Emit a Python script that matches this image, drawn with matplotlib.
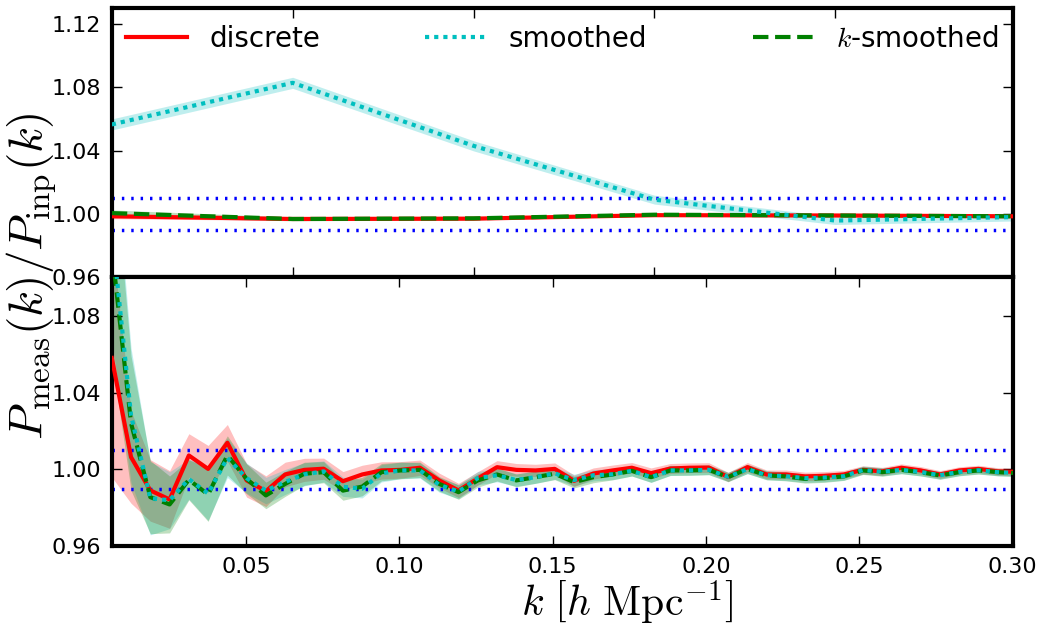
# Ratio of measured to input power spectrum, two panels
import numpy as np
import matplotlib.pyplot as plt

plt.rcParams['mathtext.fontset'] = 'cm'
plt.rcParams['font.family'] = 'DejaVu Sans'

# ---- top panel data (coarse bins) ----
k_top = [0.0, 0.02, 0.04, 0.06, 0.08, 0.0996]
disc_top = [0.9985, 0.9968, 0.9970, 0.9992, 0.9990, 0.9985]
disc_top_err = [0.0015, 0.0010, 0.0008, 0.0006, 0.0005, 0.0005]
smooth_top = [1.0565, 1.0828, 1.0430, 1.0090, 0.9958, 0.9980]
smooth_top_err = [0.0035, 0.0035, 0.0032, 0.0028, 0.0025, 0.0025]
ksmooth_top = [1.0005, 0.9968, 0.9972, 0.9995, 0.9990, 0.9985]
ksmooth_top_err = [0.0020, 0.0012, 0.0009, 0.0007, 0.0006, 0.0005]

# ---- bottom panel data (fundamental-mode bins) ----
kf = 0.00628
k_bot = kf * np.arange(1, 49)
disc = [1.0580, 1.0064, 0.9891, 0.9844, 1.0073, 1.0003, 1.0139, 0.9943, 0.9887, 0.9974,
        0.9998, 1.0004, 0.9939, 0.9974, 0.9995, 0.9998, 1.0009, 0.9943, 0.9891, 0.9953,
        1.0012, 0.9998, 0.9995, 1.0003, 0.9941, 0.9979, 0.9995, 1.0009, 0.9981, 1.0005,
        1.0009, 1.0010, 0.9961, 1.0012, 0.9974, 0.9974, 0.9964, 0.9967, 0.9974, 0.9998,
        0.9990, 1.0009, 0.9995, 0.9974, 0.9995, 1.0003, 0.9990, 0.9988]
disc_err = [0.062, 0.024, 0.016, 0.015, 0.0113, 0.0122, 0.0095, 0.0087, 0.0080, 0.0064,
            0.0060, 0.0055, 0.0050, 0.0048, 0.0045, 0.0043, 0.0040, 0.0038, 0.0037, 0.0035,
            0.0034, 0.0033, 0.0032, 0.0031, 0.0030, 0.0029, 0.0028, 0.0027, 0.0027, 0.0026,
            0.0025, 0.0025, 0.0024, 0.0024, 0.0023, 0.0023, 0.0022, 0.0022, 0.0021, 0.0021,
            0.0021, 0.0020, 0.0020, 0.0020, 0.0019, 0.0019, 0.0019, 0.0018]
smooth = [1.1250, 1.0280, 0.9850, 0.9840, 0.9950, 0.9875, 1.0060, 0.9955, 0.9890, 0.9935,
          0.9975, 0.9990, 0.9910, 0.9900, 0.9980, 0.9995, 0.9995, 0.9920, 0.9885, 0.9955,
          0.9970, 0.9945, 0.9960, 0.9980, 0.9945, 0.9970, 0.9975, 0.9993, 0.9960, 0.9995,
          0.9995, 0.9998, 0.9962, 1.0002, 0.9970, 0.9965, 0.9955, 0.9958, 0.9965, 0.9997,
          0.9988, 0.9998, 0.9987, 0.9970, 0.9987, 0.9996, 0.9986, 0.9982]
ksmooth = [1.1150, 1.0240, 0.9856, 0.9818, 0.9946, 0.9870, 1.0073, 0.9951, 0.9865, 0.9925,
           0.9978, 0.9986, 0.9890, 0.9911, 0.9986, 0.9995, 0.9998, 0.9925, 0.9882, 0.9943,
           0.9974, 0.9943, 0.9960, 0.9978, 0.9934, 0.9960, 0.9974, 0.9993, 0.9960, 0.9995,
           0.9995, 0.9998, 0.9960, 1.0003, 0.9969, 0.9964, 0.9951, 0.9955, 0.9964, 0.9995,
           0.9986, 0.9998, 0.9986, 0.9969, 0.9986, 0.9995, 0.9986, 0.9981]
ksmooth_err = [0.057, 0.035, 0.019, 0.0148, 0.0104, 0.0140, 0.0102, 0.0078, 0.0069, 0.0065,
               0.0060, 0.0055, 0.0050, 0.0048, 0.0045, 0.0043, 0.0040, 0.0038, 0.0037, 0.0035,
               0.0034, 0.0033, 0.0032, 0.0031, 0.0030, 0.0029, 0.0028, 0.0027, 0.0027, 0.0026,
               0.0025, 0.0025, 0.0024, 0.0024, 0.0023, 0.0023, 0.0022, 0.0022, 0.0021, 0.0021,
               0.0021, 0.0020, 0.0020, 0.0020, 0.0019, 0.0019, 0.0019, 0.0018]
smooth_err = ksmooth_err

fig, (ax1, ax2) = plt.subplots(2, 1, figsize=(10.45, 6.23), dpi=100)
fig.subplots_adjust(left=0.107, right=0.969, top=0.987, bottom=0.123, hspace=0)


def draw(ax, k, d, de, s, se, g, ge):
    k = np.asarray(k)
    d, de, s, se, g, ge = [np.asarray(a) for a in (d, de, s, se, g, ge)]
    ax.fill_between(k, d - de, d + de, color='r', alpha=0.25, lw=0)
    ax.fill_between(k, s - se, s + se, color='c', alpha=0.25, lw=0)
    ax.fill_between(k, g - ge, g + ge, color='g', alpha=0.25, lw=0)
    l1, = ax.plot(k, d, color='r', lw=3, label='discrete', zorder=3)
    l3, = ax.plot(k, g, color='g', lw=3, ls='--', label='$k$-smoothed', zorder=4)
    l2, = ax.plot(k, s, color='c', lw=3, ls=(0, (1, 1.2)), label='smoothed', zorder=5)
    for y in (0.99, 1.01):
        ax.axhline(y, color='b', lw=2.5, ls=(0, (0.7, 2.0)), zorder=2)
    return [l1, l2, l3]


handles = draw(ax1, k_top, disc_top, disc_top_err, smooth_top, smooth_top_err,
               ksmooth_top, ksmooth_top_err)
draw(ax2, k_bot, disc, disc_err, smooth, smooth_err, ksmooth, ksmooth_err)

ax1.set_xlim(k_top[0], k_top[-1])
ax1.set_ylim(0.96, 1.13)
ax1.set_xticks([0.02, 0.04, 0.06, 0.08])
ax1.set_xticklabels([])
ax1.set_yticks([0.96, 1.00, 1.04, 1.08, 1.12])
ax1.set_yticklabels(['0.96', '1.00', '1.04', '1.08', '1.12'])

ax2.set_xlim(k_bot[0], 0.30)
ax2.set_ylim(0.96, 1.10)
ax2.set_xticks([0.05, 0.10, 0.15, 0.20, 0.25, 0.30])
ax2.set_xticklabels(['0.05', '0.10', '0.15', '0.20', '0.25', '0.30'])
ax2.set_yticks([0.96, 1.00, 1.04, 1.08])
ax2.set_yticklabels(['0.96', '1.00', '1.04', '1.08'])

for ax in (ax1, ax2):
    ax.tick_params(direction='in', top=True, right=True, length=7, width=1,
                   labelsize=16, pad=8)
    for sp in ax.spines.values():
        sp.set_linewidth(3)

ax1.legend(handles=handles, loc='upper center', ncol=3, frameon=False,
           fontsize=20, handlelength=2.2, handletextpad=0.8, columnspacing=3.8,
           borderaxespad=0.2)

ax2.set_xlabel(r'$k\ \left[h\ \mathrm{Mpc}^{-1}\right]$', fontsize=30, labelpad=0)
ax2.xaxis.set_label_coords(0.572, -0.12)
fig.text(0.030, 0.557, r'$P_{\rm meas}(k)/P_{\rm inp}(k)$', rotation=90,
         ha='center', va='center', fontsize=34)

fig.savefig('out.png', dpi=100)
